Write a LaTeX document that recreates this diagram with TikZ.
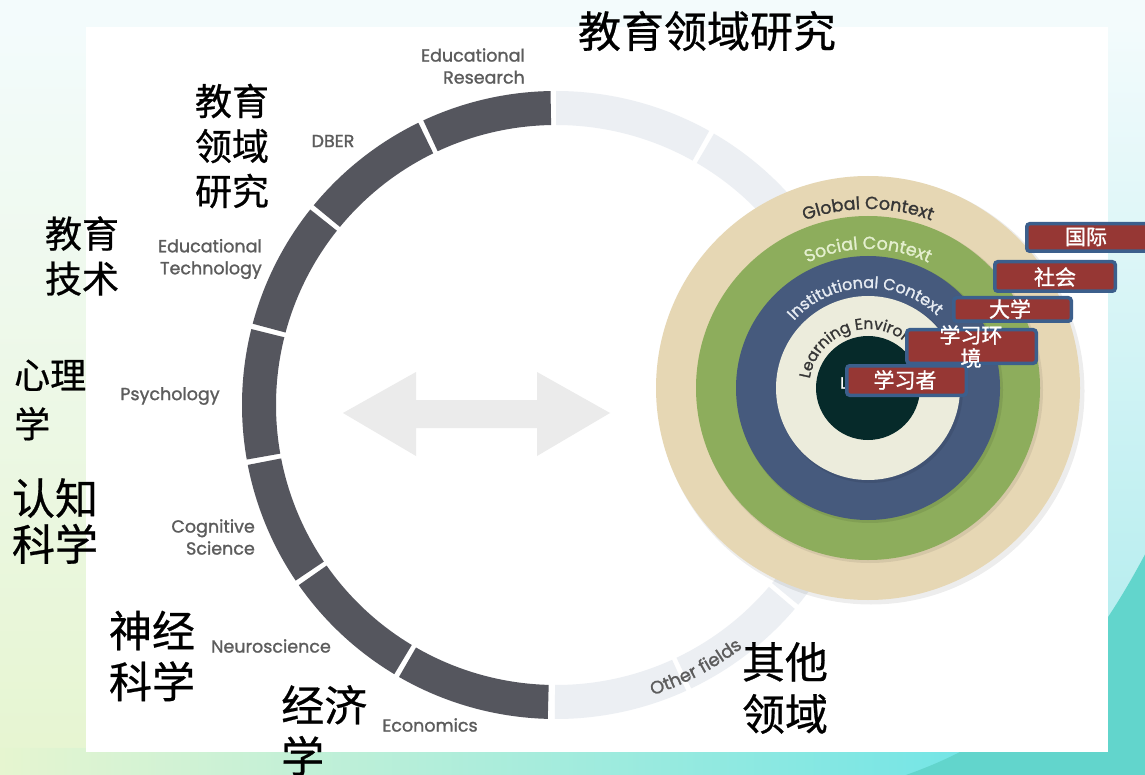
\documentclass[tikz,border=0pt]{standalone}
\usepackage{fontspec}
\newfontfamily\cjk[FakeBold=0.6]{Noto Sans CJK SC}
\newfontfamily\cjkb[FakeBold=1.2]{Noto Sans CJK SC}
\newfontfamily\lab[FakeBold=1.3]{Poppins}
\usetikzlibrary{decorations.text}
\definecolor{bgtop}{HTML}{F3FBFC}
\definecolor{bgleftb}{HTML}{E6F5D0}
\definecolor{bgrightm}{HTML}{D2F4F8}
\definecolor{bgrightb}{HTML}{A8EAEC}
\definecolor{bgmid}{HTML}{A0ECE6}
\definecolor{bgcyan}{HTML}{5EE2EA}
\definecolor{swoosh}{HTML}{62D5CC}
\definecolor{segdark}{HTML}{55565E}
\definecolor{seglight}{HTML}{ECEFF3}
\definecolor{arrowgray}{HTML}{EBEBEB}
\definecolor{labgray}{HTML}{5C5C5C}
\definecolor{ctan}{HTML}{E6D7B4}
\definecolor{cgreen}{HTML}{8DAD5C}
\definecolor{cblue}{HTML}{465A7D}
\definecolor{ccream}{HTML}{ECECDC}
\definecolor{cdark}{HTML}{062A2A}
\definecolor{txtdark}{HTML}{363636}
\definecolor{txtsocial}{HTML}{E4EFCF}
\definecolor{txtinst}{HTML}{E6EBF2}
\definecolor{boxred}{HTML}{963734}
\definecolor{boxblue}{HTML}{3C5F8C}
\newcommand\ringseg[3]{\fill[#3,shift={(556,-405)}] (#1:314) arc[start angle=#1,end angle=#2,radius=314] -- (#2:280) arc[start angle=#2,end angle=#1,radius=280] -- cycle;}
\tikzset{
  glab/.style={font=\lab\fontsize{17.5}{22}\selectfont, text=labgray, inner sep=0pt},
  cjkA/.style={font=\cjk\fontsize{37}{45}\selectfont, inner sep=0pt, align=left},
  cjkB/.style={font=\cjk\fontsize{43}{51}\selectfont, inner sep=0pt, align=left},
  redbox/.style={draw=boxblue, line width=3.5pt, fill=boxred, rounded corners=3pt, inner sep=0pt},
  boxtext/.style={font=\cjkb\fontsize{21}{23}\selectfont, text=white, inner sep=0pt, align=center}
}
\begin{document}
\begin{tikzpicture}[x=1pt,y=1pt]
\useasboundingbox (0,0) rectangle (1145,-775);
% background
\fill[bgtop] (0,0) rectangle (1145,-30);
\shade[top color=bgtop, bottom color=bgleftb] (0,-27) rectangle (90,-775);
\shade[top color=bgtop, middle color=bgrightm, bottom color=bgrightb] (1100,-27) rectangle (1145,-775);
\shade[left color=bgleftb, middle color=bgmid, right color=bgcyan] (0,-748) rectangle (1145,-775);
\fill[swoosh] (900,-777) .. controls (1040,-730) and (1100,-640) .. (1150,-545) -- (1150,-777) -- cycle;
\fill[white] (86,-27) rectangle (1108,-752);
% big ring: dark segments
\ringseg{91}{115}{segdark}
\ringseg{116}{140.5}{segdark}
\ringseg{141.5}{165}{segdark}
\ringseg{166}{190}{segdark}
\ringseg{191}{214}{segdark}
\ringseg{215}{239}{segdark}
\ringseg{240}{268.5}{segdark}
% light segments
\ringseg{60.8}{90}{seglight}
\ringseg{30}{59.8}{seglight}
\ringseg{269.8}{294.5}{seglight}
\ringseg{295.5}{319.5}{seglight}
\ringseg{320.5}{350}{seglight}
% double arrow
\fill[arrowgray] (343,-413) -- (416,-372) -- (416,-400) -- (537,-400) -- (537,-372) -- (610,-413)
  -- (537,-456) -- (537,-428) -- (416,-428) -- (416,-456) -- cycle;
% gray labels
\node[glab, anchor=east, align=right] (ler) at (525,-66) {Educational\\Research};
\node[glab] (ldber) at (333,-141) {DBER};
\node[glab, anchor=east, align=right] (let) at (262,-259) {Educational\\Technology};
\node[glab] (lpsy) at (170,-396) {Psychology};
\node[glab, anchor=east, align=right] (lcog) at (255,-537) {Cognitive\\Science};
\node[glab] (lneu) at (271,-646) {Neuroscience};
\node[glab] (leco) at (430,-725) {Economics};
\path[decorate, decoration={text along path, text color=labgray, text align=center,
  text={|\lab\fontsize{18}{18}\selectfont|Other fields}}]
  (556,-405) ++(268:306) arc[start angle=268, end angle=328, radius=306];
% concentric circles
\fill[black, opacity=0.07] (871,-391) circle (213.5);
\fill[ctan] (868,-388) circle (212);
\fill[black, opacity=0.07] (870,-390) circle (173);
\fill[cgreen] (868,-388) circle (172);
\fill[black, opacity=0.08] (870,-390) circle (133);
\fill[cblue] (868,-388) circle (132);
\fill[black, opacity=0.08] (870,-390) circle (93);
\fill[ccream] (868,-388) circle (92);
\fill[cdark] (868,-388) circle (52);
\path[decorate, decoration={text along path, text color=txtdark, text align=center,
  text={|\lab\fontsize{17.5}{17}\selectfont|Global Context}}]
  (868,-388) ++(180:179) arc[start angle=180, end angle=0, radius=179];
\path[decorate, decoration={text along path, text color=txtsocial, text align=center,
  text={|\lab\fontsize{17.5}{17}\selectfont|Social Context}}]
  (868,-388) ++(180:139) arc[start angle=180, end angle=0, radius=139];
\path[decorate, decoration={text along path, text color=txtinst, text align=center,
  text={|\lab\fontsize{16}{16}\selectfont|Institutional Context}}]
  (868,-388) ++(182:100) arc[start angle=182, end angle=2, radius=100];
\path[decorate, decoration={text along path, text color=txtdark, text align=left,
  text={|\lab\fontsize{15.5}{15}\selectfont|Learning Environment}}]
  (868,-388) ++(171:59) arc[start angle=171, end angle=-60, radius=59];
\node[font=\lab\fontsize{16}{16}\selectfont, text=white, inner sep=0pt] (lrn) at (870,-383) {Learner};
% red boxes
\node[redbox, minimum width=123.5pt, minimum height=27.5pt] (b1) at (1088.5,-237.5) {};
\node[boxtext] (t1) at (1086,-237) {国际};
\node[redbox, minimum width=120.5pt, minimum height=29.5pt] (b2) at (1055,-276.5) {};
\node[boxtext] (t2) at (1055,-277) {社会};
\node[redbox, minimum width=117.5pt, minimum height=23.5pt] (b3) at (1012.5,-309.5) {};
\node[boxtext] (t3) at (1010,-309) {大学};
\node[redbox, minimum width=129.5pt, minimum height=33.5pt] (b4) at (971.5,-346.5) {};
\node[redbox, minimum width=119.5pt, minimum height=29.5pt] (b5) at (906.5,-380.5) {};
\node[boxtext] (t4) at (971,-346.5) {学习环\\境};
\node[boxtext] (t5) at (905,-380) {学习者};
% chinese labels
\node[font=\cjk\fontsize{43}{51}\selectfont, inner sep=0pt] (title) at (707,-31) {教育领域研究};
\node[cjkA] (c1) at (232,-146) {教育\\领域\\研究};
\node[cjkA] (c2) at (82,-256) {教育\\技术};
\node[font=\cjk\fontsize{36}{49}\selectfont, inner sep=0pt, align=left, anchor=west] (c3) at (14,-400) {心理\\学};
\node[font=\cjk\fontsize{43}{46}\selectfont, inner sep=0pt, align=left] (c4) at (55,-521) {认知\\科学};
\node[cjkB, text width=86pt] (c5) at (152,-656) {神经\\科学};
\node[cjkB, anchor=north west] (c6) at (281,-685) {经济\\学};
\node[font=\cjk\fontsize{43}{52}\selectfont, inner sep=0pt, align=left] (c7) at (785,-688) {其他\\领域};
\end{tikzpicture}
\end{document}
